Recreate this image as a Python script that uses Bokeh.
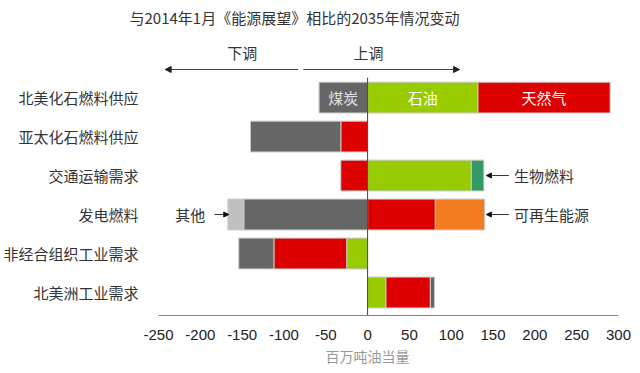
from bokeh.plotting import figure
from bokeh.models import Label, Arrow, NormalHead, Range1d, FixedTicker, Title
from bokeh.embed import file_html
from bokeh.resources import INLINE

categories = ["北美化石燃料供应", "亚太化石燃料供应", "交通运输需求",
              "发电燃料", "非经合组织工业需求", "北美洲工业需求"]
series_names = ["石油", "天然气", "煤炭", "生物燃料", "可再生能源", "其他"]
oil = [132, 0, 124, 0, -25, 22]
gas = [158, -32, -32, 81, -87, 53]
coal = [-58, -108, 0, -148, -42, 5]
biofuel = [0, 0, 15, 0, 0, 0]
renewables = [0, 0, 0, 59, 0, 0]
other = [0, 0, 0, -19, 0, 0]
colors = ["#99CC00", "#DD0000", "#666666", "#339966", "#F47B20", "#C0C0C0"]
x_ticks = [-250, -200, -150, -100, -50, 0, 50, 100, 150, 200, 250, 300]
x_tick_labels = ["-250", "-200", "-150", "-100", "-50", "0", "50", "100", "150",
                 "200", "250", "300"]

series = [oil, gas, coal, biofuel, renewables, other]
n = len(categories)
ypos = [n - i for i in range(n)]  # top row = 6

FONT = "Noto Sans CJK SC"
NUMF = "Liberation Sans"

p = figure(width=640, height=373, output_backend="svg", toolbar_location=None,
           x_range=Range1d(-250, 300), y_range=Range1d(0.41, 7.72),
           min_border_left=156, min_border_right=22, min_border_top=30,
           min_border_bottom=58)
p.outline_line_color = None
p.grid.visible = False
p.background_fill_color = "white"

p.title = Title(text="与2014年1月《能源展望》相比的2035年情况变动", align="left",
                offset=-29, standoff=6, text_font=FONT, text_font_size="15px",
                text_font_style="normal", text_color="#333333")

pos_acc = [0.0] * n
neg_acc = [0.0] * n
for vals, col in zip(series, colors):
    lefts, rights, ys = [], [], []
    for i, v in enumerate(vals):
        if v == 0:
            continue
        if v > 0:
            l, r = pos_acc[i], pos_acc[i] + v
            pos_acc[i] = r
        else:
            l, r = neg_acc[i] + v, neg_acc[i]
            neg_acc[i] = l
        lefts.append(l); rights.append(r); ys.append(ypos[i])
    p.hbar(y=ys, left=lefts, right=rights, height=0.79, fill_color=col,
           line_color="#C8C8C8", line_width=1)

# zero line
p.segment(x0=[0], y0=[0.41], x1=[0], y1=[6.51], line_color="#444444", line_width=1)

# axes
p.xaxis.ticker = FixedTicker(ticks=x_ticks)
p.xaxis.major_label_overrides = {t: s for t, s in zip(x_ticks, x_tick_labels)}
p.xaxis.axis_line_color = "#888888"
p.xaxis.major_tick_line_color = None
p.xaxis.minor_tick_line_color = None
p.xaxis.major_label_text_font = NUMF
p.xaxis.major_label_text_font_size = "15px"
p.xaxis.major_label_text_color = "#222222"
p.xaxis.major_label_standoff = 8

p.add_layout(Title(text="百万吨油当量", align="left", offset=167, standoff=2,
                   text_font=FONT, text_font_size="14px", text_font_style="normal",
                   text_color="#999999"), "below")

p.yaxis.ticker = FixedTicker(ticks=ypos)
p.yaxis.major_label_overrides = {y: c for y, c in zip(ypos, categories)}
p.yaxis.axis_line_color = None
p.yaxis.major_tick_line_color = None
p.yaxis.minor_tick_line_color = None
p.yaxis.major_label_text_font = FONT
p.yaxis.major_label_text_font_size = "15px"
p.yaxis.major_label_text_color = "#333333"
p.yaxis.major_label_standoff = 14

# direction labels
p.add_layout(Label(x=-150, y=7.15, text="下调", text_align="center", text_baseline="middle",
                   text_font=FONT, text_font_size="15px", text_color="#333333"))
p.add_layout(Label(x=1, y=7.15, text="上调", text_align="center", text_baseline="middle",
                   text_font=FONT, text_font_size="15px", text_color="#333333"))
p.add_layout(Arrow(x_start=-83, y_start=6.72, x_end=-242, y_end=6.72,
                   line_color="#444444", line_width=1,
                   end=NormalHead(size=6, fill_color="#222222", line_color="#222222")))
p.add_layout(Arrow(x_start=-77, y_start=6.72, x_end=110, y_end=6.72,
                   line_color="#444444", line_width=1,
                   end=NormalHead(size=6, fill_color="#222222", line_color="#222222")))

# in-bar labels
p.add_layout(Label(x=-29, y=ypos[0], text="煤炭", text_align="center", text_baseline="middle",
                   text_font=FONT, text_font_size="15px", text_color="#E0E0E0"))
p.add_layout(Label(x=66, y=ypos[0], text="石油", text_align="center", text_baseline="middle",
                   text_font=FONT, text_font_size="15px", text_color="white"))
p.add_layout(Label(x=211, y=ypos[0], text="天然气", text_align="center", text_baseline="middle",
                   text_font=FONT, text_font_size="15px", text_color="white"))

# callouts
head = dict(size=5, fill_color="#111111", line_color="#111111")
p.add_layout(Arrow(x_start=169, y_start=ypos[2], x_end=142, y_end=ypos[2],
                   line_color="#333333", line_width=1, end=NormalHead(**head)))
p.add_layout(Label(x=175, y=ypos[2], text="生物燃料", text_align="left", text_baseline="middle",
                   text_font=FONT, text_font_size="15px", text_color="#333333"))
p.add_layout(Arrow(x_start=169, y_start=ypos[3], x_end=142, y_end=ypos[3],
                   line_color="#333333", line_width=1, end=NormalHead(**head)))
p.add_layout(Label(x=175, y=ypos[3], text="可再生能源", text_align="left", text_baseline="middle",
                   text_font=FONT, text_font_size="15px", text_color="#333333"))
p.add_layout(Arrow(x_start=-183, y_start=ypos[3], x_end=-166, y_end=ypos[3],
                   line_color="#333333", line_width=1, end=NormalHead(**head)))
p.add_layout(Label(x=-194, y=ypos[3], text="其他", text_align="right", text_baseline="middle",
                   text_font=FONT, text_font_size="15px", text_color="#333333"))

open("out.html", "w").write(file_html(p, INLINE))
